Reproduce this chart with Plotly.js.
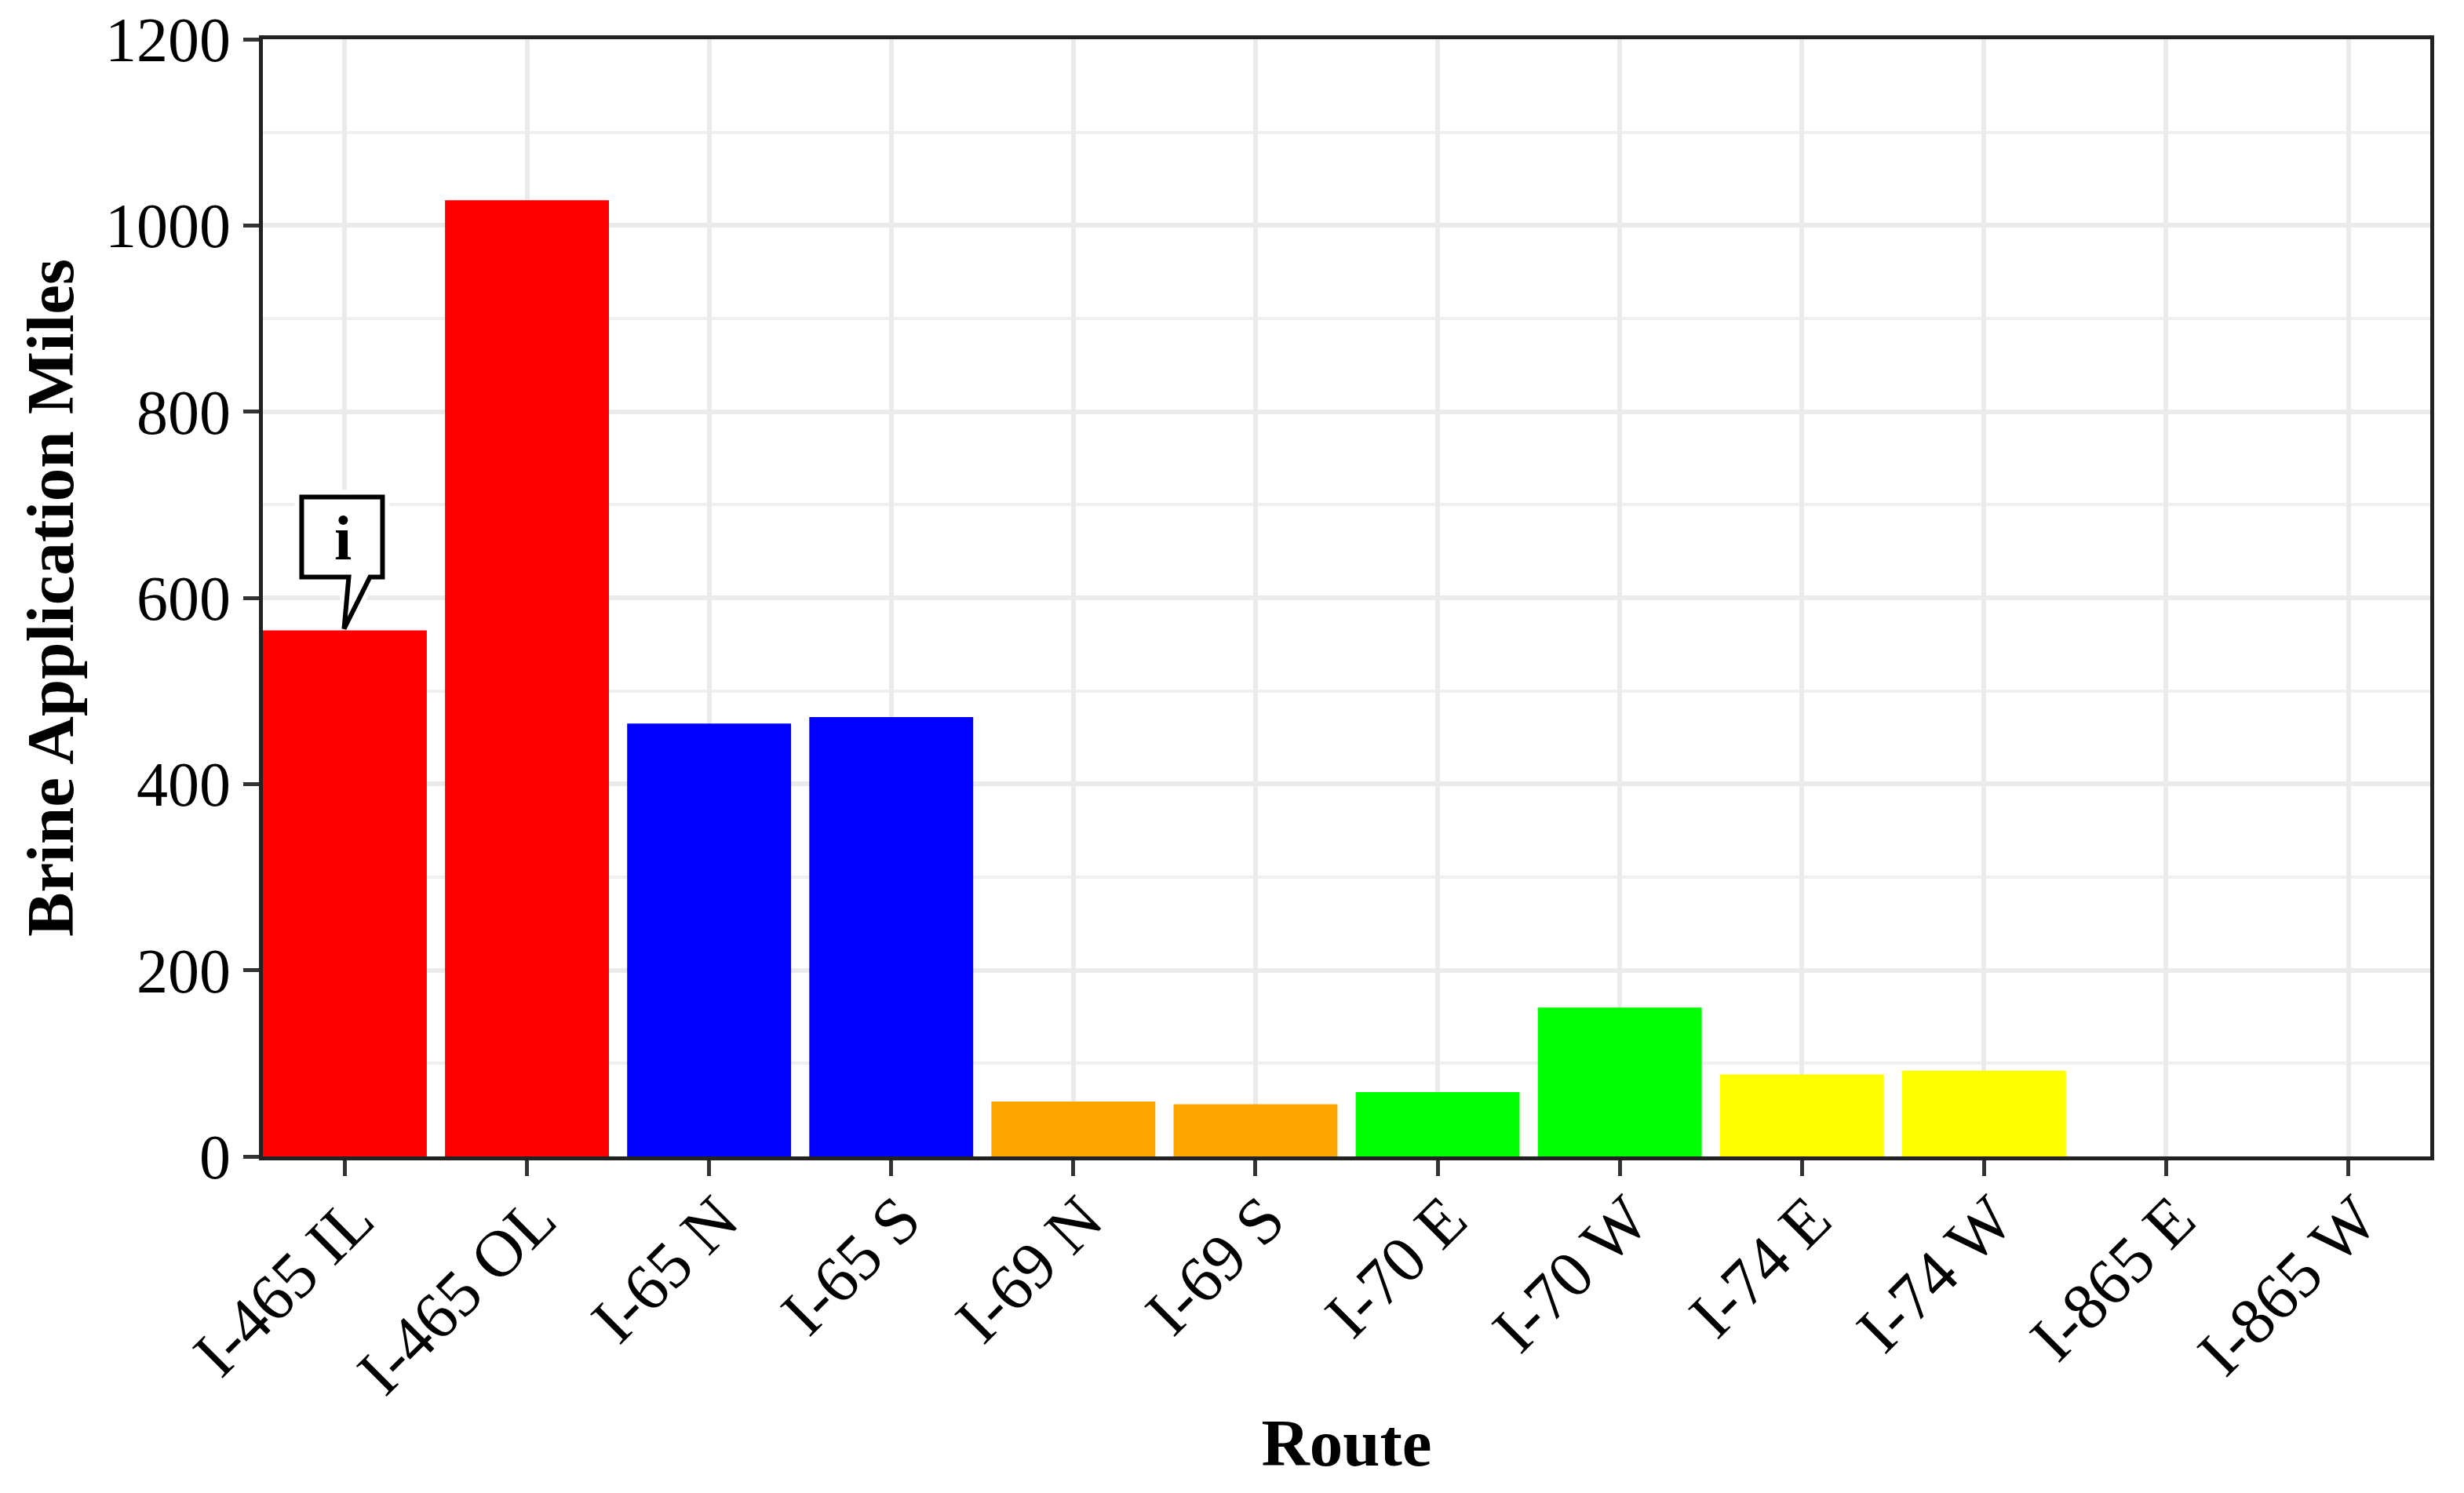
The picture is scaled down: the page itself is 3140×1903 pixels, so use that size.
<!DOCTYPE html>
<html>
<head>
<meta charset="utf-8">
<script src="https://cdn.plot.ly/plotly-3.0.1.min.js"></script>
<style>html,body{margin:0;padding:0;background:#fff}</style>
</head>
<body>
<div id="chart" style="width:3140px;height:1903px"></div>
<script>
const routes = ["I-465 IL","I-465 OL","I-65 N","I-65 S","I-69 N","I-69 S","I-70 E","I-70 W","I-74 E","I-74 W","I-865 E","I-865 W"];
const brineMiles = [565,1027,465,472,59,56,69,160,88,92,0,0];
const barColors = ["#ff0000","#ff0000","#0000ff","#0000ff","#ffa500","#ffa500","#00ff00","#00ff00","#ffff00","#ffff00","#ffff00","#ffff00"];
const yTicks = [0,200,400,600,800,1000,1200];
const serif = '"Liberation Serif","Times New Roman",serif';
const calloutPath = "M -55 68 L -55 170 L 48 170 L 48 68 L 32 68 L -1 2 L 5 68 Z";

Plotly.newPlot("chart",[{
  type:"bar",
  x:routes.map((r,i)=>i),
  y:brineMiles,
  width:0.9,
  marker:{color:barColors,line:{width:0}},
  hoverinfo:"x+y"
}],{
  width:3140,height:1903,
  margin:{l:335,r:43,t:50,b:429,pad:0},
  paper_bgcolor:"#ffffff",plot_bgcolor:"#ffffff",
  showlegend:false,
  font:{family:serif,color:"#000000"},
  xaxis:{
    range:[-0.45,11.45],
    tickmode:"array",tickvals:routes.map((r,i)=>i),ticktext:routes,
    tickangle:-45,tickfont:{family:serif,size:84,color:"#000"},
    ticks:"outside",ticklen:20,tickwidth:5,tickcolor:"#333",
    ticklabelshift:12,ticklabelstandoff:-28,
    showgrid:true,gridcolor:"#ebebeb",gridwidth:6,
    showline:true,linecolor:"#222",linewidth:5,mirror:true,
    zeroline:false,automargin:false,
    title:{text:"<b>Route</b>",font:{family:serif,size:85,color:"#000"},standoff:16}
  },
  yaxis:{
    range:[0,1200],
    tickmode:"array",tickvals:yTicks,
    tickfont:{family:serif,size:80,color:"#000"},
    ticks:"outside",ticklen:20,tickwidth:5,tickcolor:"#333",
    showgrid:true,gridcolor:"#ebebeb",gridwidth:6,
    minor:{dtick:100,showgrid:true,gridcolor:"#f0f0f0",gridwidth:4,ticks:""},
    showline:true,linecolor:"#222",linewidth:5,mirror:true,
    zeroline:false,automargin:false,
    title:{text:"<b>Brine Application Miles</b>",font:{family:serif,size:85,color:"#000"},standoff:14}
  },
  shapes:[
    {type:"rect",xref:"paper",yref:"paper",x0:0,x1:1,y0:0,y1:1,layer:"between",line:{color:"#ffffff",width:20},fillcolor:"rgba(0,0,0,0)"},
    {type:"path",xref:"x",yref:"y",xsizemode:"pixel",ysizemode:"pixel",xanchor:0,yanchor:brineMiles[0],path:calloutPath,layer:"between",line:{color:"#ffffff",width:18},fillcolor:"#ffffff"},
    {type:"path",xref:"x",yref:"y",xsizemode:"pixel",ysizemode:"pixel",xanchor:0,yanchor:brineMiles[0],path:calloutPath,layer:"above",line:{color:"#000000",width:6},fillcolor:"#ffffff"}
  ],
  annotations:[
    {x:0,y:brineMiles[0],xref:"x",yref:"y",text:"<b>i</b>",showarrow:false,xanchor:"center",yanchor:"middle",xshift:-2,yshift:118,font:{family:serif,size:80,color:"#000"}}
  ]
},{displayModeBar:false,staticPlot:true});
</script>
</body>
</html>
